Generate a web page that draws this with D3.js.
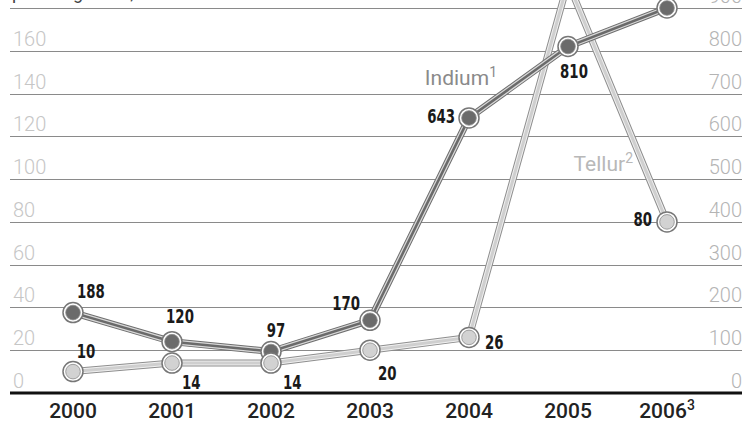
<!DOCTYPE html>
<html>
<head>
<meta charset="utf-8">
<script src="https://cdn.jsdelivr.net/npm/d3@7"></script>
<style>
  html, body { margin: 0; padding: 0; background: #fff; }
  svg { display: block; }
</style>
</head>
<body>
<div id="chart"></div>
<script>
// Chart data
const years = ["2000", "2001", "2002", "2003", "2004", "2005", "2006"];
const yearNotes = ["", "", "", "", "", "", "3"];
const indium = [188, 120, 97, 170, 643, 810, 900];   // right axis
const tellur = [10, 14, 14, 20, 26, 192, 80];        // left axis
const gridTicks = [20, 40, 60, 80, 100, 120, 140, 160, 180];
const leftTicks = [0, 20, 40, 60, 80, 100, 120, 140, 160];
const rightTicks = [0, 100, 200, 300, 400, 500, 600, 700, 800, 900];

// label placement next to each dot (dx, dy, anchor)
const indiumLabelPos = [[4, -15, "start"], [8, -19, "middle"], [5, -15, "middle"], [-10, -10, "end"],
                        [-14, 5, "end"], [6, 31, "middle"], [0, -16, "middle"]];
const tellurLabelPos = [[13, -14, "middle"], [10, 26, "start"], [12, 26, "start"], [8, 30, "start"],
                        [16, 12, "start"], [0, -16, "middle"], [-15, 4, "end"]];

const width = 751;
const height = 422;
const left = 10, right = 742, baseY = 393, topY = 8;

const svg = d3.select("#chart")
    .append("svg")
    .attr("width", width)
    .attr("height", height);

const x = d3.scalePoint().domain(years).range([73, 667]);
const yL = d3.scaleLinear().domain([0, 180]).range([baseY, topY]);
const yR = d3.scaleLinear().domain([0, 900]).range([baseY, topY]);

const tickFont = "Roboto, 'DejaVu Sans', sans-serif";
const numFont = "'DejaVu Sans Condensed', 'Liberation Sans Narrow', sans-serif";

// axis title, mostly cut off by the top edge
svg.append("text")
    .attr("x", 12).attr("y", -1)
    .attr("font-family", tickFont).attr("font-size", 18)
    .attr("fill", "#444")
    .text("pro Kilogramm, in US-Dollar");

// gridlines
svg.append("g")
    .selectAll("line")
    .data(gridTicks)
    .join("line")
    .attr("x1", left).attr("x2", right)
    .attr("y1", d => Math.round(yL(d)) + 0.5)
    .attr("y2", d => Math.round(yL(d)) + 0.5)
    .attr("stroke", "#8a8a8a")
    .attr("stroke-width", 1);

// left tick labels (Tellur)
svg.append("g")
    .selectAll("text")
    .data(leftTicks)
    .join("text")
    .attr("x", 13)
    .attr("y", d => yL(d) - 5)
    .attr("font-family", tickFont).attr("font-weight", 300).attr("font-size", 20)
    .attr("fill", "#c6c6c6")
    .text(d => d);

// right tick labels (Indium)
svg.append("g")
    .selectAll("text")
    .data(rightTicks)
    .join("text")
    .attr("x", right)
    .attr("y", d => yR(d) - 5)
    .attr("text-anchor", "end")
    .attr("font-family", tickFont).attr("font-weight", 300).attr("font-size", 20)
    .attr("fill", "#b4b4b4")
    .text(d => d);

// baseline
svg.append("line")
    .attr("x1", left).attr("x2", right)
    .attr("y1", baseY).attr("y2", baseY)
    .attr("stroke", "#111")
    .attr("stroke-width", 3);

// year labels
const yl = svg.append("g")
    .selectAll("text")
    .data(years)
    .join("text")
    .attr("x", d => x(d))
    .attr("y", 418)
    .attr("text-anchor", "middle")
    .attr("font-family", tickFont).attr("font-weight", 500).attr("font-size", 21)
    .attr("fill", "#222");
yl.append("tspan").text(d => d);
yl.append("tspan")
    .attr("dy", -8)
    .attr("font-size", 14)
    .text((d, i) => yearNotes[i]);

// lines
const tellurPts = years.map((d, i) => [x(d), yL(tellur[i])]);
const indiumPts = years.map((d, i) => [x(d), yR(indium[i])]);
const line = d3.line();

function drawLine(pts, layers) {
    layers.forEach(l => {
        svg.append("path")
            .attr("d", line(pts))
            .attr("fill", "none")
            .attr("stroke", l[0])
            .attr("stroke-width", l[1])
            .attr("stroke-linejoin", "miter");
    });
}

drawLine(tellurPts, [["#8e8e8e", 7], ["#f0f0f0", 5], ["#cfcfcf", 3]]);
drawLine(indiumPts, [["#6e6e6e", 7], ["#d8d8d8", 5], ["#6a6a6a", 2.5]]);

function drawDots(pts, fill) {
    const g = svg.append("g");
    g.selectAll("circle.outer")
        .data(pts)
        .join("circle")
        .attr("class", "outer")
        .attr("cx", d => d[0]).attr("cy", d => d[1])
        .attr("r", 10)
        .attr("fill", "#fff")
        .attr("stroke", "#777")
        .attr("stroke-width", 1.5);
    g.selectAll("circle.inner")
        .data(pts)
        .join("circle")
        .attr("class", "inner")
        .attr("cx", d => d[0]).attr("cy", d => d[1])
        .attr("r", 7.3)
        .attr("fill", fill)
        .attr("stroke", "#8a8a8a")
        .attr("stroke-width", 0.8);
}

drawDots(indiumPts, "#6b6b6b");
drawDots(tellurPts, "#d2d2d2");

// value labels, squeezed to look like a condensed face
function drawValues(pts, values, pos) {
    svg.append("g")
        .selectAll("text")
        .data(values)
        .join("text")
        .attr("transform", (d, i) =>
            `translate(${pts[i][0] + pos[i][0]},${pts[i][1] + pos[i][1]}) scale(0.78,1)`)
        .attr("text-anchor", (d, i) => pos[i][2])
        .attr("font-family", numFont).attr("font-weight", "bold").attr("font-size", 19)
        .attr("fill", "#1a1a1a")
        .text(d => d);
}

drawValues(indiumPts, indium, indiumLabelPos);
drawValues(tellurPts, tellur, tellurLabelPos);

// series names
const nameI = svg.append("text")
    .attr("x", x("2004") + 28)
    .attr("y", yR(720))
    .attr("text-anchor", "end")
    .attr("font-family", tickFont).attr("font-size", 21)
    .attr("fill", "#8a8a8a");
nameI.append("tspan").text("Indium");
nameI.append("tspan").attr("dy", -8).attr("font-size", 14).text("1");

const nameT = svg.append("text")
    .attr("x", x("2006") - 34)
    .attr("y", yL(104))
    .attr("text-anchor", "end")
    .attr("font-family", tickFont).attr("font-size", 21)
    .attr("fill", "#b8b8b8");
nameT.append("tspan").text("Tellur");
nameT.append("tspan").attr("dy", -8).attr("font-size", 14).text("2");
</script>
</body>
</html>
